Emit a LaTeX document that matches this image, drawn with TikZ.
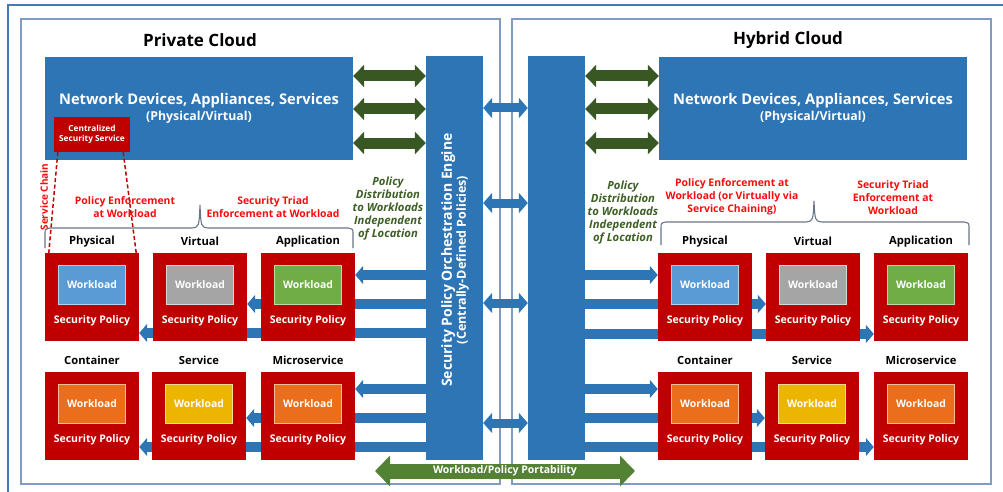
\documentclass[tikz,border=0pt]{standalone}
\usepackage{fontspec}
\setmainfont{Open Sans}
\usepackage{tikz}
\usetikzlibrary{arrows.meta,positioning,calc,backgrounds}

\definecolor{boxblue}{RGB}{46,117,182}
\definecolor{secred}{RGB}{192,0,0}
\definecolor{labred}{RGB}{250,10,10}
\definecolor{labgreen}{RGB}{62,96,38}
\definecolor{netgreen}{RGB}{56,87,35}
\definecolor{portgreen}{RGB}{84,130,53}
\definecolor{tilephys}{RGB}{91,155,213}
\definecolor{tilevirt}{RGB}{165,165,165}
\definecolor{tileapp}{RGB}{112,173,71}
\definecolor{tileorange}{RGB}{234,110,28}
\definecolor{tilegold}{RGB}{236,182,0}
\definecolor{bracegray}{RGB}{104,118,134}
\definecolor{framegray}{RGB}{128,156,192}
\definecolor{outerblue}{RGB}{70,120,182}

\tikzset{
  outerframe/.style={draw=outerblue, line width=1.3pt},
  cloudframe/.style={draw=framegray, line width=1.1pt},
  title/.style={font=\fontsize{17}{20}\selectfont\bfseries},
  netbox/.style={fill=boxblue, minimum width=308pt, minimum height=103pt, text=white, align=center},
  column/.style={fill=boxblue, minimum width=57pt, minimum height=404pt},
  csec/.style={fill=secred, minimum width=76pt, minimum height=35pt, text=white, align=center,
    font=\fontsize{8.3}{10}\selectfont\bfseries},
  wlbox/.style={fill=secred, minimum width=94pt, minimum height=88pt},
  tile/.style={minimum width=67pt, minimum height=39pt, text=white, line width=0.9pt,
    font=\fontsize{10.4}{12}\selectfont\bfseries},
  policy/.style={text=white, font=\fontsize{10.5}{12}\selectfont\bfseries},
  header/.style={font=\fontsize{11.2}{13}\selectfont\bfseries},
  redlabel/.style={text=labred, align=center, font=\fontsize{10.4}{13}\selectfont\bfseries},
  greenlabel/.style={text=labgreen, align=center, font=\fontsize{11.3}{13}\selectfont\bfseries\itshape},
  netarrow/.style={draw=netgreen, line width=11pt, {Triangle[length=11pt,width=22pt]}-{Triangle[length=11pt,width=22pt]}},
  linkarrow/.style={draw=boxblue, line width=9pt, {Triangle[length=9pt,width=20pt]}-{Triangle[length=9pt,width=20pt]}},
  feed/.style={draw=boxblue, line width=10pt, -{Triangle[length=8pt,width=18pt]}},
  portarrow/.style={draw=portgreen, line width=15pt, {Triangle[length=15pt,width=30pt]}-{Triangle[length=15pt,width=30pt]}},
  chain/.style={draw=secred, line width=1.5pt, dash pattern=on 4pt off 2.5pt},
  brace/.style={draw=bracegray, line width=1.1pt}
}

\begin{document}
\begin{tikzpicture}[x=1pt, y=-1pt]
    \useasboundingbox (0,0) rectangle (1003,492);

    % Frames
    \draw[outerframe] (1003,5) -- (8,5) -- (8,492);
    \draw[cloudframe] (21,19) rectangle (500,484);
    \draw[cloudframe] (512,19) rectangle (991,484);

    % Titles
    \node[title] (ptitle) at (200,40) {Private Cloud};
    \node[title] (htitle) at (788,40) {Hybrid Cloud};

    % Network devices
    \node[netbox] (pnet) at (199,108.5) {\fontsize{14.7}{17}\selectfont\bfseries Network Devices, Appliances, Services\\[2.5pt]
      \fontsize{12.3}{14}\selectfont\bfseries (Physical/Virtual)};
    \node[netbox] (hnet) at (813,108.5) {\fontsize{14.7}{17}\selectfont\bfseries Network Devices, Appliances, Services\\[2.5pt]
      \fontsize{12.3}{14}\selectfont\bfseries (Physical/Virtual)};
    \node[csec] (csec) at (92,134.5) {Centralized\\Security Service};

    % Orchestration engine and its counterpart
    \node[column] (eng) at (454.5,258) {};
    \node[column] (hyb) at (556.5,258) {};
    \node[rotate=90, text=white, align=center, font=\bfseries] (englabel) at (455,260)
      {\fontsize{14}{16}\selectfont Security Policy Orchestration Engine\\
       \fontsize{12.5}{14}\selectfont (Centrally-Defined Policies)};

    % Arrows to network devices and between columns
    \foreach \yy in {76,109,143} {
      \draw[netarrow] (pnet.east |- 0,\yy) -- (eng.west |- 0,\yy);
      \draw[netarrow] (hyb.east |- 0,\yy) -- (hnet.west |- 0,\yy);
    }
    \foreach \yy in {108,203,303,423}
      \draw[linkarrow] (eng.east |- 0,\yy) -- (hyb.west |- 0,\yy);

    % Workload boxes
    \foreach \nm/\cx/\cy/\col/\lbl in {
        pphy/92/297/tilephys/Physical, pvir/200/297/tilevirt/Virtual, papp/308/297/tileapp/Application,
        pcon/92/416/tileorange/Container, psrv/199/416/tilegold/Service, pmic/308/416/tileorange/Microservice,
        hphy/705/297/tilephys/Physical, hvir/813/297/tilevirt/Virtual, happ/921/297/tileapp/Application,
        hcon/705/416/tileorange/Container, hsrv/812/416/tilegold/Service, hmic/921/416/tileorange/Microservice} {
      \node[wlbox] (\nm) at (\cx,\cy) {};
      \node[tile, fill=\col, draw=\col!45!white] (\nm-tile) at (\cx,\cy-12.5) {Workload};
      \node[policy] (\nm-pol) at (\cx,\cy+24) {Security Policy};
      \node[header] (\nm-head) at (\cx,\cy-55.5) {\lbl};
    }

    % Policy feeds (behind the boxes)
    \begin{scope}[on background layer]
      \draw[feed] (eng.west |- 0,275) -- (papp.east |- 0,275);
      \draw[feed] (eng.west |- 0,304) -- (pvir.east |- 0,304);
      \draw[feed] (eng.west |- 0,333) -- (pphy.east |- 0,333);
      \draw[feed] (eng.west |- 0,389) -- (pmic.east |- 0,389);
      \draw[feed] (eng.west |- 0,418) -- (psrv.east |- 0,418);
      \draw[feed] (eng.west |- 0,447) -- (pcon.east |- 0,447);
      \draw[feed] (hyb.east |- 0,275) -- (hphy.west |- 0,275);
      \draw[feed] (hyb.east |- 0,304) -- (hvir.west |- 0,304);
      \draw[feed] (hyb.east |- 0,334) -- (happ.west |- 0,334);
      \draw[feed] (hyb.east |- 0,389) -- (hcon.west |- 0,389);
      \draw[feed] (hyb.east |- 0,418) -- (hsrv.west |- 0,418);
      \draw[feed] (hyb.east |- 0,447) -- (hmic.west |- 0,447);
    \end{scope}

    % Service chain
    \draw[chain] ([xshift=4pt]csec.south west) -- ([xshift=4pt]pphy.north west);
    \draw[chain] ([xshift=-7pt]csec.south east) -- ([xshift=-3pt]pphy.north east);
    \node[rotate=90, text=labred, font=\fontsize{10}{12}\selectfont\bfseries] (chainlabel) at (44,197) {Service Chain};

    % Braces
    \draw[brace] (45,248) -- (45,234) .. controls (45,229) .. (50,228) -- (192,228)
      .. controls (199,227) .. (200,205) .. controls (201,227) .. (208,228) -- (348,228)
      .. controls (353,229) .. (353,234) -- (353,248);
    \draw[brace] (661,245) -- (661,228) .. controls (661,223) .. (666,222) -- (806,222)
      .. controls (813,221) .. (814,201) .. controls (815,221) .. (822,222) -- (964,222)
      .. controls (969,223) .. (969,228) -- (969,245);

    % Labels
    \node[redlabel] (penf) at (125,207) {Policy Enforcement\\at Workload};
    \node[redlabel] (ptriad) at (273,207) {Security Triad\\Enforcement at Workload};
    \node[redlabel] (henf) at (732,197) {Policy Enforcement at\\Workload (or Virtually via\\Service Chaining)};
    \node[redlabel] (htriad) at (893,197.5) {Security Triad\\Enforcement at\\Workload};
    \node[greenlabel] (pdist) at (388,209) {Policy\\Distribution\\to Workloads\\Independent\\of Location};
    \node[greenlabel] (hdist) at (623,212.5) {Policy\\Distribution\\to Workloads\\Independent\\of Location};

    % Portability
    \coordinate (portL) at (375,471);
    \coordinate (portR) at (635,471);
    \draw[portarrow] (portL) -- (portR) node[midway, text=white, font=\fontsize{10.5}{12}\selectfont\bfseries] (portlabel) {Workload/Policy Portability};
\end{tikzpicture}
\end{document}
